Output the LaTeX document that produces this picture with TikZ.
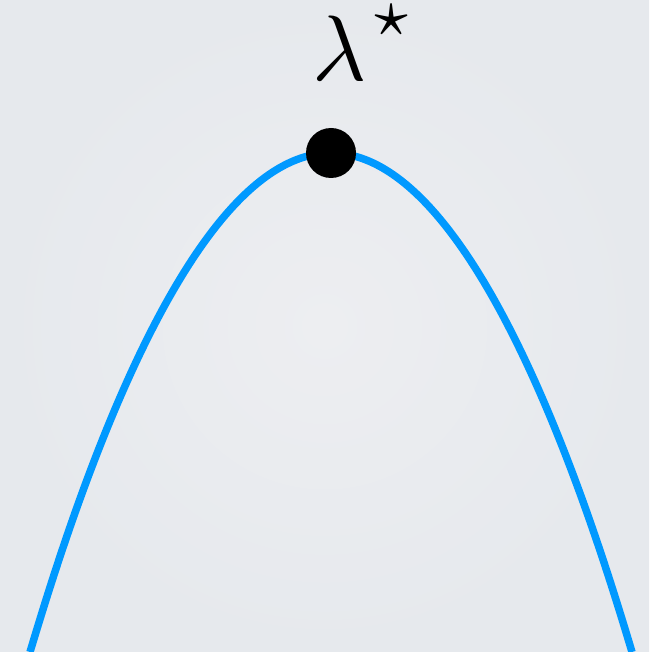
\documentclass[tikz,border=0pt]{standalone}
\definecolor{bgin}{RGB}{237,238,241}
\definecolor{bgout}{RGB}{230,233,237}
\definecolor{curveblue}{RGB}{0,153,255}
\begin{document}
\begin{tikzpicture}[x=1pt,y=-1pt,
  curve/.style={draw=curveblue,line width=7.5pt},
  optdot/.style={circle,fill=black,minimum size=50pt,inner sep=0pt},
  lbl/.style={inner sep=0pt,scale=9.3}]
\shade[inner color=bgin,outer color=bgout] (0,0) rectangle (649,652);
\useasboundingbox (0,0) rectangle (649,652);
\coordinate (L) at (30,652);
\coordinate (R) at (632,652);
\coordinate (V) at (331,153);
\draw[curve] (L) parabola bend (V) (R);
\node[optdot] (dot) at (V) {};
\node[lbl,anchor=base] (lam) at (364,81) {$\lambda^{\hspace{0.06em}\raisebox{0.13em}{$\scriptstyle\star$}}$};
\end{tikzpicture}
\end{document}
